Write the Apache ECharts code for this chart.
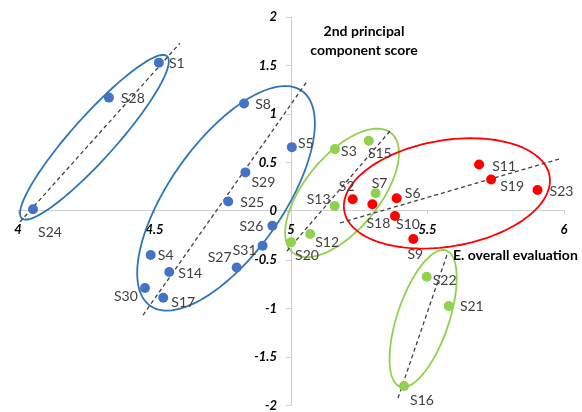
<!DOCTYPE html>
<html>
<head>
<meta charset="utf-8">
<script src="https://cdn.jsdelivr.net/npm/echarts@6/dist/echarts.min.js"></script>
<style>
html,body{margin:0;padding:0;background:#fff;}
#c{width:582px;height:412px;}
</style>
</head>
<body>
<div id="c"></div>
<script>
// ---- data (name, E. overall evaluation, 2nd principal component score) ----
const bluePoints = [
  ['S1',4.516,1.53],['S28',4.333,1.17],['S24',4.055,0.02],['S8',4.828,1.11],
  ['S5',5.003,0.66],['S29',4.833,0.40],['S25',4.770,0.10],['S26',4.932,-0.15],
  ['S31',4.896,-0.355],['S27',4.801,-0.58],['S4',4.486,-0.45],['S14',4.554,-0.625],
  ['S30',4.465,-0.79],['S17',4.532,-0.89]
];
const greenPoints = [
  ['S3',5.161,0.64],['S15',5.285,0.725],['S7',5.310,0.185],['S13',5.160,0.055],
  ['S12',5.070,-0.235],['S20',5.000,-0.32],['S22',5.497,-0.675],['S21',5.578,-0.975],
  ['S16',5.414,-1.80]
];
const redPoints = [
  ['S2',5.226,0.123],['S18',5.298,0.072],['S6',5.387,0.133],['S10',5.381,-0.048],
  ['S9',5.448,-0.286],['S11',5.689,0.481],['S19',5.733,0.327],['S23',5.903,0.218]
];
// dashed trend lines: [start, end]
const trendBlue1  = [[4.007,-0.11],[4.593,1.73]];
const trendBlue2  = [[4.458,-1.07],[5.062,1.35]];
const trendGreen1 = [[4.985,-0.41],[5.370,0.85]];
const trendRed    = [[5.180,-0.12],[5.985,0.54]];
const trendGreen2 = [[5.392,-1.923],[5.575,-0.419]];
// group ellipses: [centerX, centerY, majorEndX, majorEndY, minor/major ratio]
const ellipses = [
  [4.280,0.762,4.546,1.596,0.20],
  [4.762,0.133,5.040,1.239,0.43],
  [5.187,0.189,5.367,0.804,0.48],
  [5.571,0.184,5.947,0.363,0.51],
  [5.484,-1.105,5.568,-0.404,0.36]
];
const xTicks = [4,4.5,5,5.5,6];
const yTicks = [-2,-1.5,-1,-0.5,0,0.5,1,1.5,2];
const xCross = 5;   // y axis crosses x at 5
const yCross = 0;   // x axis crosses y at 0

// ---- styling / label placement ----
const ellipseColors = ['#2E75B6','#2E75B6','#92D050','#FF0000','#92D050'];
const labelOffset = {
  S1:[18,1],S28:[24,1],S24:[17,23],S8:[19,1],S5:[14,-4],S29:[18,10],S25:[24,1],
  S26:[-21,1],S31:[-18,5],S27:[-17,-10],S4:[15,1],S14:[21,2],S30:[-19,9],S17:[20,5],
  S3:[14,2],S15:[11,13],S7:[4,-10],S13:[-16,-6],S12:[17,8],S20:[16,13],S22:[18,4],
  S21:[23,1],S16:[18,14],
  S2:[-6,-13],S18:[6,19],S6:[16,-5],S10:[13,9],S9:[2,15],S11:[25,2],S19:[21,7],S23:[24,1]
};
const FONT = 'Lato, "Open Sans", "Liberation Sans", sans-serif';

function pts(arr){
  return arr.map(p => ({
    name:p[0], value:[p[1],p[2]],
    label:{offset:labelOffset[p[0]] || [15,0]}
  }));
}
function scatter(arr,color){
  return {
    type:'scatter', data:pts(arr), symbolSize:10, z:5,
    itemStyle:{color:color, opacity:1},
    label:{show:true, position:'inside', formatter:'{b}', color:'#404040',
           fontSize:14, fontFamily:FONT, align:'center', verticalAlign:'middle'},
    emphasis:{disabled:true}
  };
}
function trend(arr){
  return {type:'line', data:arr, symbol:'none', z:3, silent:true,
    lineStyle:{color:'#404040', width:1.3, type:[4,3]}};
}

const GL = 18, GR = 18, GT = 17, GB = 4;
const gridW = 582 - GL - GR, gridH = 412 - GT - GB;
const chart = echarts.init(document.getElementById('c'), null, {renderer:'canvas'});
chart.setOption({
  animation:false,
  backgroundColor:'#fff',
  grid:{left:GL, right:GR, top:GT, bottom:GB},
  xAxis:{
    type:'value', min:4, max:6, interval:0.5, position:'bottom',
    offset:-(yCross-(-2))/(2-(-2))*gridH,
    axisLine:{onZero:false, lineStyle:{color:'#D0D0D0', width:1}},
    axisTick:{show:true, length:4, lineStyle:{color:'#D0D0D0'}},
    splitLine:{show:false},
    axisLabel:{margin:13, color:'#000', fontSize:13, fontWeight:'bold', fontStyle:'italic',
      fontFamily:FONT, showMinLabel:true, showMaxLabel:true,
      formatter:v => xTicks.includes(v) ? String(v) : ''}
  },
  yAxis:{
    type:'value', min:-2, max:2, interval:0.5, position:'left',
    offset:-(xCross-4)/(6-4)*gridW,
    axisLine:{show:true, onZero:false, lineStyle:{color:'#D0D0D0', width:1}},
    axisTick:{show:true, length:5, lineStyle:{color:'#D0D0D0'}},
    splitLine:{show:false},
    axisLabel:{margin:14, color:'#000', fontSize:13, fontWeight:'bold', fontStyle:'italic',
      fontFamily:FONT, showMinLabel:true, showMaxLabel:true,
      formatter:v => yTicks.includes(v) ? String(v) : ''}
  },
  series:[
    {
      type:'custom', silent:true, z:2,
      data:ellipses.map((e,i)=>({value:e})),
      renderItem:function(params, api){
        const c = api.coord([api.value(0), api.value(1)]);
        const e = api.coord([api.value(2), api.value(3)]);
        const r = api.value(4);
        const dx = e[0]-c[0], dy = e[1]-c[1];
        const a = Math.hypot(dx,dy), b = a*r, th = Math.atan2(dy,dx);
        const cs = Math.cos(th), sn = Math.sin(th);
        const poly = [];
        for(let k=0;k<120;k++){
          const t = k/120*Math.PI*2;
          const u = a*Math.cos(t), w = b*Math.sin(t);
          poly.push([c[0]+u*cs-w*sn, c[1]+u*sn+w*cs]);
        }
        return {type:'polygon', shape:{points:poly},
          style:{fill:'none', stroke:ellipseColors[params.dataIndex], lineWidth:1.8}};
      }
    },
    trend(trendBlue1), trend(trendBlue2), trend(trendGreen1), trend(trendRed), trend(trendGreen2),
    scatter(bluePoints,'#4472C4'),
    scatter(greenPoints,'#92D050'),
    scatter(redPoints,'#FF0000')
  ],
  graphic:[
    {type:'text', x:364, y:41, z:10,
     style:{text:'2nd principal\ncomponent score', fill:'#000', font:'bold 14px '+FONT,
       textAlign:'center', textVerticalAlign:'middle', lineHeight:19}},
    {type:'text', x:453, y:255, z:10,
     style:{text:'E. overall evaluation', fill:'#000', font:'bold 14px '+FONT,
       textAlign:'left', textVerticalAlign:'middle'}}
  ]
});
</script>
</body>
</html>
